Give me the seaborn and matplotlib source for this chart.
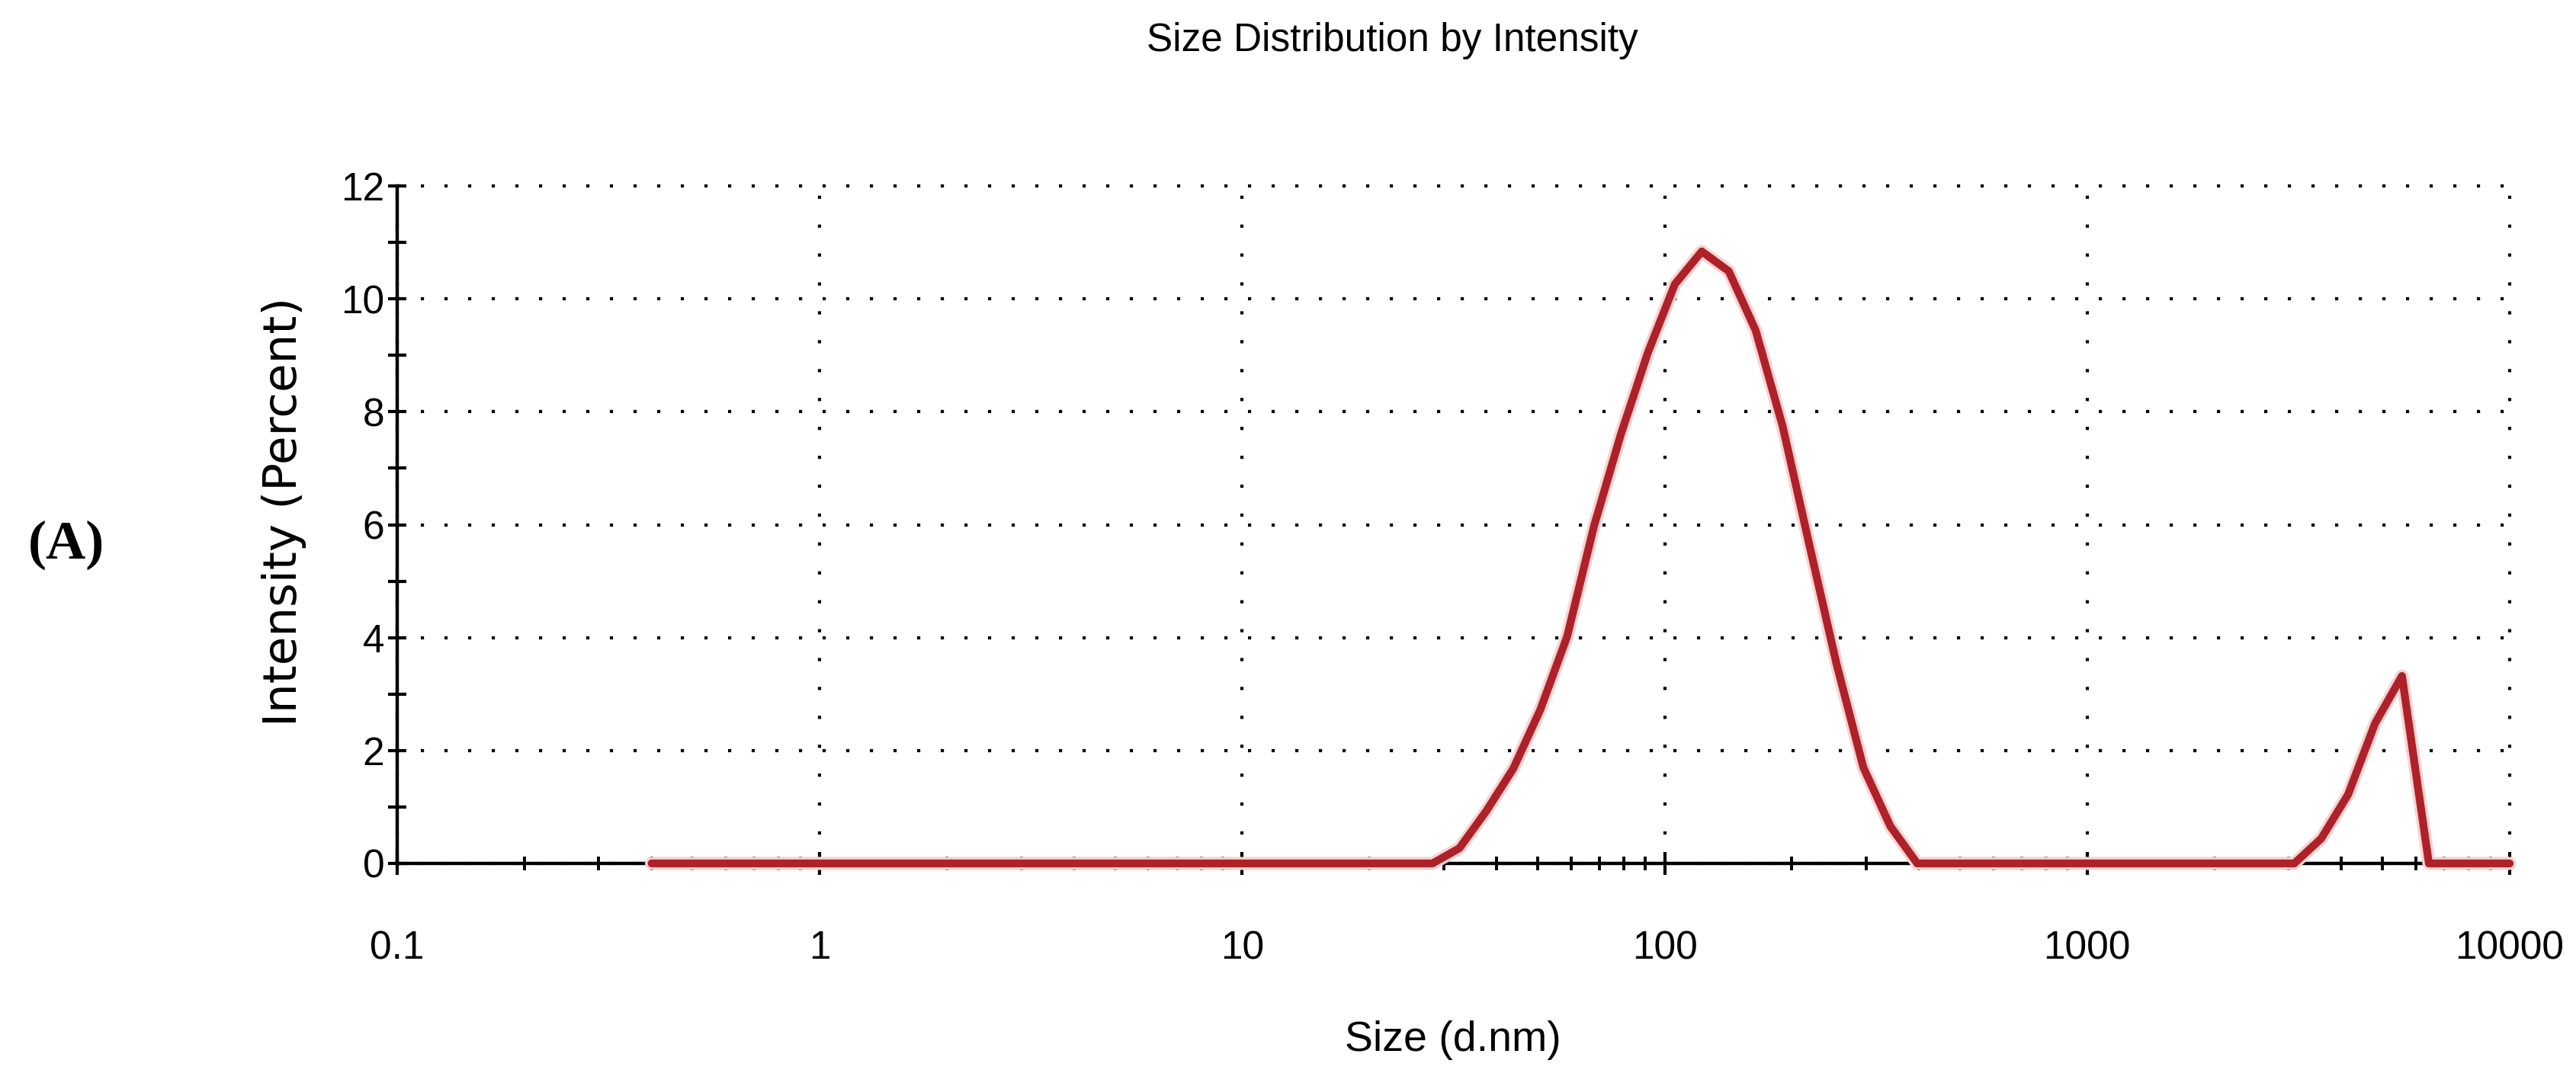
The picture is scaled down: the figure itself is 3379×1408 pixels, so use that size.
import numpy as np
import pandas as pd
import matplotlib
matplotlib.use("Agg")
import matplotlib.pyplot as plt
import matplotlib.patheffects as pe
from matplotlib.ticker import FixedLocator, NullFormatter, LogLocator
import seaborn as sns

# ---- data (Zetasizer size classes, d.nm) ----
size_nm = [0.4, 28.21, 32.67, 37.84, 43.82, 50.75, 58.77, 68.06, 78.82, 91.28,
           105.7, 122.4, 141.8, 164.2, 190.1, 220.2, 255.0, 295.3, 342.0, 396.1,
           3091, 3580, 4145, 4801, 5560, 6439, 10000]
intensity_pct = [0, 0, 0.27, 0.93, 1.68, 2.72, 4.02, 5.98, 7.61, 9.05,
                 10.26, 10.84, 10.49, 9.44, 7.75, 5.63, 3.54, 1.70, 0.66, 0,
                 0, 0.44, 1.22, 2.48, 3.32, 0, 0]
x_ticks = [0.1, 1, 10, 100, 1000, 10000]
x_tick_labels = ["0.1", "1", "10", "100", "1000", "10000"]
y_ticks = [0, 2, 4, 6, 8, 10, 12]
y_minor = [1, 3, 5, 7, 9, 11]

title = "Size Distribution by Intensity"
xlabel = "Size (d.nm)"
ylabel = "Intensity (Percent)"
panel = "(A)"

sns.set_theme(style="white")
plt.rcParams["font.family"] = ["Liberation Sans", "DejaVu Sans"]
plt.rcParams["text.color"] = "black"
plt.rcParams["axes.labelcolor"] = "black"
plt.rcParams["xtick.color"] = "black"
plt.rcParams["ytick.color"] = "black"

df = pd.DataFrame({"size": size_nm, "intensity": intensity_pct})

W, H, DPI = 3380, 1408, 200
fig = plt.figure(figsize=(W / DPI, H / DPI), dpi=DPI)
fig.patch.set_facecolor("white")
ax = fig.add_axes([521 / W, 1 - 1133 / H, (3292 - 521) / W, (1133 - 244) / H])
ax.set_xscale("log")

lw = 3.7
sns.lineplot(data=df, x="size", y="intensity", ax=ax, color="#AE2129",
             linewidth=lw, estimator=None, sort=False, zorder=5, clip_on=False,
             path_effects=[pe.Stroke(linewidth=lw + 2.5, foreground="#F7D3D3"), pe.Normal()])

ax.set_xlim(0.1, 10000)
ax.set_ylim(0, 12)

ax.set_xticks(x_ticks)
ax.set_xticklabels(x_tick_labels)
ax.xaxis.set_minor_locator(LogLocator(base=10, subs=np.arange(2, 10), numticks=20))
ax.xaxis.set_minor_formatter(NullFormatter())
ax.set_yticks(y_ticks)
ax.set_yticklabels([str(v) for v in y_ticks])
ax.yaxis.set_minor_locator(FixedLocator(y_minor))

ax.tick_params(axis="x", which="major", direction="inout", length=11, width=1.5,
               pad=26, labelsize=18.5, colors="black", bottom=True)
ax.tick_params(axis="x", which="minor", direction="inout", length=6.5, width=1.4,
               bottom=True, colors="black")
ax.tick_params(axis="y", which="major", direction="inout", length=8.3, width=1.5,
               pad=1.8, labelsize=18.5, colors="black", left=True)
ax.tick_params(axis="y", which="minor", direction="inout", length=8.3, width=1.5,
               left=True, colors="black")

for s in ["top", "right"]:
    ax.spines[s].set_visible(False)
for s in ["left", "bottom"]:
    ax.spines[s].set_color("black")
    ax.spines[s].set_linewidth(1.6)
    ax.spines[s].set_zorder(3)

ax.xaxis.grid(True, which="major", color="black", linewidth=1.5, linestyle=(0, (1, 8.1)))
ax.yaxis.grid(True, which="major", color="black", linewidth=1.5, linestyle=(0, (1, 6.44)))
ax.set_axisbelow(True)
fig.canvas.draw()
for gl in ax.get_xgridlines() + ax.get_ygridlines():
    gl.set_clip_on(False)

ax.set_xlabel("")
ax.set_ylabel("")

fig.text(0.5405, 0.962, title, ha="center", va="center", fontsize=18.5, color="black",
         family=["Liberation Sans", "DejaVu Sans"])
fig.text(0.564, 0.0305, xlabel, ha="center", va="center", fontsize=20, color="black",
         family=["Liberation Sans", "DejaVu Sans"])
fig.text(373 / W, 0.523, ylabel, ha="center", va="center", rotation=90, fontsize=22,
         color="black", family=["DejaVu Sans"])
fig.text(87 / W, 1 - 715 / H, panel, ha="center", va="center", fontsize=26,
         fontweight="bold", color="black", family=["Liberation Serif", "DejaVu Serif"])

fig.savefig("out.png", dpi=DPI, facecolor="white")
